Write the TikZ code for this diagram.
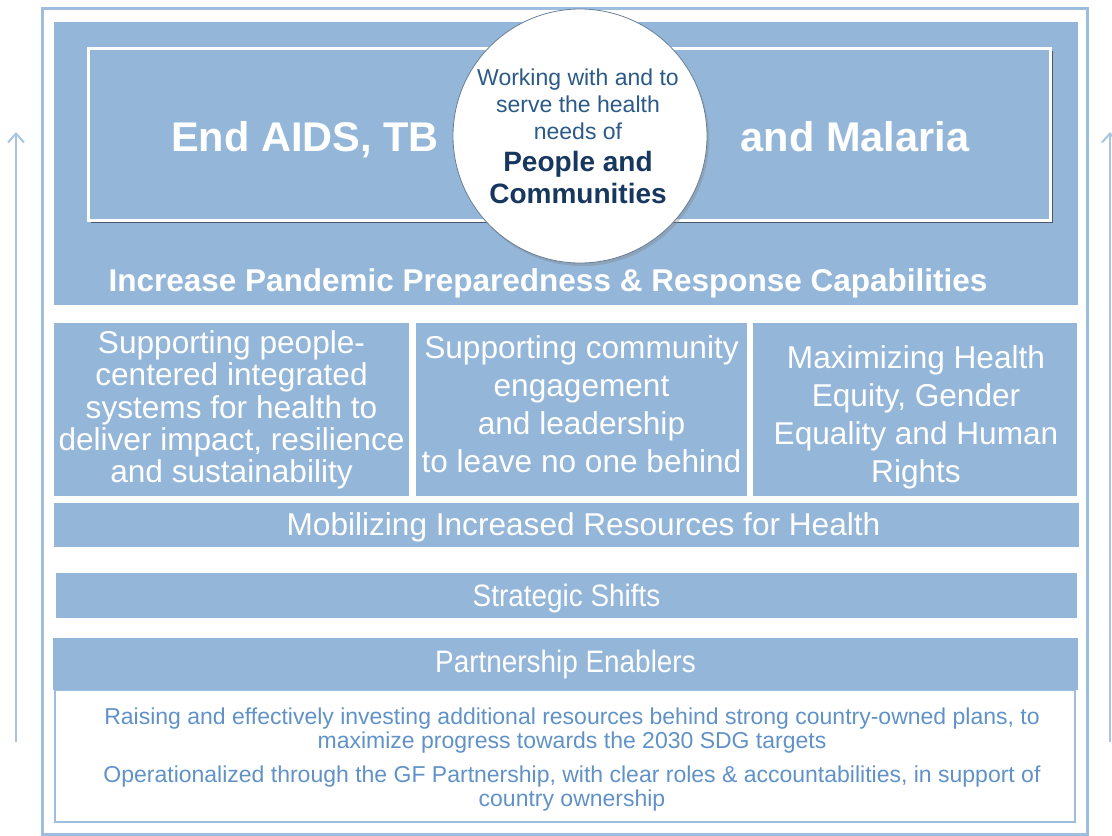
\documentclass[tikz,border=0pt]{standalone}
\usepackage{fontspec}
\setmainfont{Liberation Sans}
\newfontfamily\narrowsf[FakeStretch=0.9]{Liberation Sans}
\usepackage{xcolor}
\usetikzlibrary{arrows.meta,shadows,positioning}

\definecolor{panel}{HTML}{94B6D9}
\definecolor{frameblue}{HTML}{9EBEDF}
\definecolor{arrowblue}{HTML}{A9C5E3}
\definecolor{navy}{HTML}{17375E}
\definecolor{circtext}{HTML}{2B5A88}
\definecolor{bodytext}{HTML}{6092C7}

\begin{document}
\begin{tikzpicture}
		[x=1pt,y=-1pt,
		 band/.style={fill=panel,draw=white,line width=1.5pt,inner sep=0pt},
		 colbox/.style={band,minimum height=175pt},
		 coltext/.style={text=white,align=center,font=\fontsize{31.6}{38}\selectfont},
		 goal/.style={text=white,font=\bfseries\fontsize{41.5}{46}\selectfont},
		 bodyline/.style={text=bodytext,align=center,font=\fontsize{23}{24}\selectfont},
		 uparrow/.style={draw=arrowblue,line width=2pt,-{Straight Barb[length=9pt,width=16pt]}}]
		\useasboundingbox (0,0) rectangle (1112,836);
		% outer frame
		\draw[frameblue,line width=3pt] (42,8) rectangle (1087,834);
		% top panel with goals
		\fill[panel] (54,22) rectangle (1078,305);
		\node[draw=white,fill=panel,line width=3pt,minimum width=962pt,minimum height=172pt,
			drop shadow={shadow xshift=3pt,shadow yshift=-3pt,fill=black!60!panel,opacity=.85}]
			(goalbox) at (569,134) {};
		\node[goal] (endaids) at (305,140) {End AIDS, TB};
		\node[goal] (malaria) at (855,137) {and Malaria};
		\node[circle,fill=white,draw=panel!70!black,line width=.8pt,minimum size=254pt,
			drop shadow={shadow xshift=2pt,shadow yshift=-3pt,opacity=.35}]
			(people) at (580,136) {};
		\node[text=circtext,align=center,font=\fontsize{23}{27}\selectfont] (serve) at (578,104)
			{Working with and to\\serve the health\\needs of};
		\node[text=navy,align=center,font=\bfseries\fontsize{28}{32}\selectfont] (commun) at (578,177)
			{People and\\Communities};
		\node[text=white,font=\bfseries\fontsize{31.5}{36}\selectfont] (pandemic) at (548,283)
			{Increase Pandemic Preparedness \& Response Capabilities};
		% three pillars
		\node[colbox,minimum width=357pt] (sys) at (231.5,409.5) {};
		\node[colbox,minimum width=333pt] (comm) at (581.5,409.5) {};
		\node[colbox,minimum width=326pt] (equity) at (915,409.5) {};
		\node[coltext,font=\fontsize{31.6}{32.2}\selectfont] (systext) at (231.5,410)
			{Supporting people-\\centered integrated\\systems for health to\\deliver impact, resilience\\and sustainability};
		\node[coltext] (commtext) at (581.5,404)
			{Supporting community\\engagement\\and leadership\\to leave no one behind};
		\node[coltext] (equitytext) at (916,417)
			{Maximizing Health\\Equity, Gender\\Equality and Human\\Rights};
		\node[band,minimum width=1027pt,minimum height=46pt] (mobil) at (566.5,525) {};
		\node[coltext] (mobiltext) at (583.5,527) {Mobilizing Increased Resources for Health};
		% shifts and enablers
		\node[band,minimum width=1023pt,minimum height=47pt] (shifts) at (566.5,595.5) {};
		\node[text=white,font=\narrowsf\fontsize{31}{36}\selectfont] (shiftstext) at (566.5,598) {Strategic Shifts};
		\draw[frameblue,line width=2pt] (55,690) rectangle (1075,822);
		\node[band,draw=none,minimum width=1025pt,minimum height=52pt,text=white,font=\narrowsf\fontsize{31}{36}\selectfont]
			(enablers) at (565.5,664) {Partnership Enablers};
		\node[bodyline] (raising) at (572,731)
			{Raising and effectively investing additional resources behind strong country-owned plans, to\\maximize progress towards the 2030 SDG targets};
		\node[bodyline] (operat) at (572,789)
			{Operationalized through the GF Partnership, with clear roles \& accountabilities, in support of\\country ownership};
		% side arrows
		\coordinate (lbot) at (16,742);
		\coordinate (ltop) at (16,132);
		\coordinate (rbot) at (1110,742);
		\coordinate (rtop) at (1110,132);
		\draw[uparrow] (lbot) -- (ltop);
		\draw[uparrow] (rbot) -- (rtop);
\end{tikzpicture}
\end{document}
